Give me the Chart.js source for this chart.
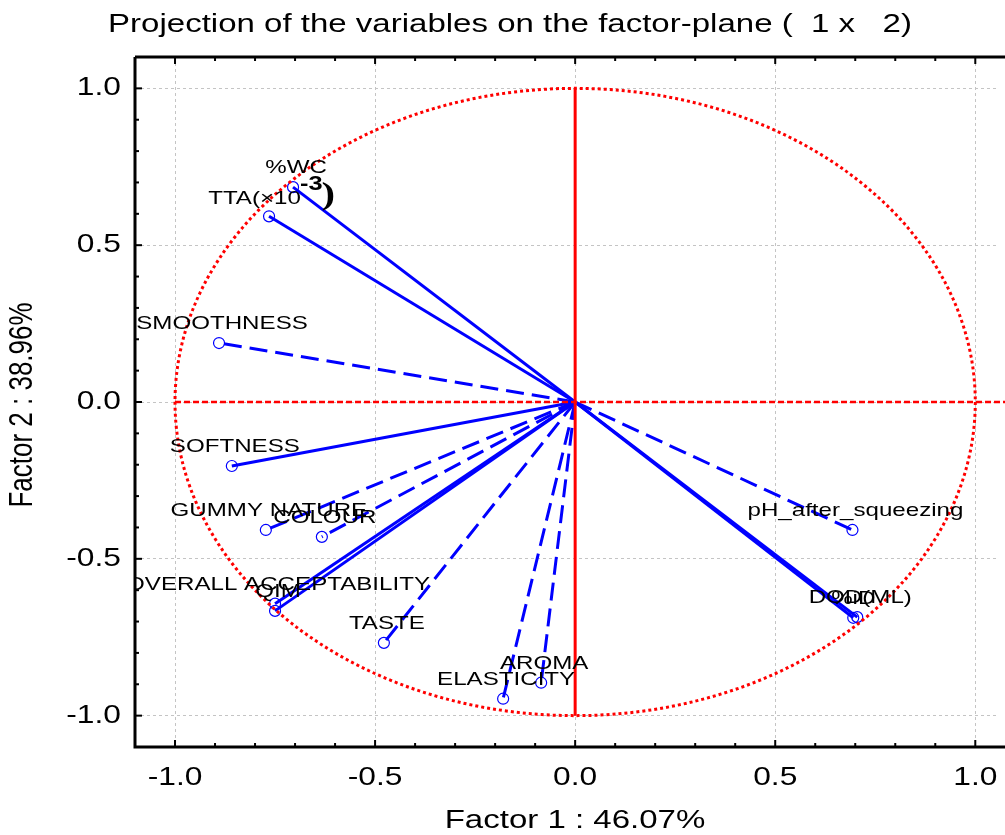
<!DOCTYPE html>
<html>
<head>
<meta charset="utf-8">
<script src="https://cdn.jsdelivr.net/npm/chart.js@4.4.1/dist/chart.umd.min.js"></script>
<style>
  html, body { margin: 0; padding: 0; background: #fff; }
</style>
</head>
<body>
<canvas id="chart" width="1005" height="835"></canvas>
<script>
// variable loadings on factor 1 and factor 2
const variables = ['%WC', 'TTA(×10', 'SMOOTHNESS', 'SOFTNESS', 'GUMMY NATURE', 'COLOUR',
    'OVERALL ACCEPTABILITY', 'QIM', 'TASTE', 'AROMA', 'ELASTICITY',
    'pH_after_squeezing', 'DOD(ML)', '%iD'];
const factor1 = [-0.705, -0.765, -0.89, -0.858, -0.773, -0.633,
    -0.75, -0.75, -0.478, -0.085, -0.18,
    0.693, 0.705, 0.695];
const factor2 = [0.685, 0.592, 0.188, -0.204, -0.408, -0.43,
    -0.643, -0.666, -0.768, -0.895, -0.946,
    -0.408, -0.686, -0.688];
const dashedVars = ['SMOOTHNESS', 'GUMMY NATURE', 'COLOUR', 'TASTE', 'AROMA', 'ELASTICITY', 'pH_after_squeezing'];

const xTicks = [-1.0, -0.5, 0.0, 0.5, 1.0];
const yTicks = [-1.0, -0.5, 0.0, 0.5, 1.0];

const chartTitle = 'Projection of the variables on the factor-plane (  1 x   2)';
const xTitle = 'Factor 1 : 46.07%';
const yTitle = 'Factor 2 : 38.96%';

const SX = 1.27; // the original picture is stretched sideways
const FONT = '"Liberation Sans", Arial, sans-serif';
const BLUE = '#0000ff';
const RED = '#ff0000';

function stext(ctx, str, x, y, size, align, weight) {
    ctx.save();
    ctx.translate(x, y);
    ctx.scale(SX, 1);
    ctx.font = (weight || '') + ' ' + size + 'px ' + FONT;
    ctx.textAlign = align || 'center';
    ctx.textBaseline = 'middle';
    ctx.fillText(str, 0, 0);
    ctx.restore();
}

const decor = {
    id: 'decor',
    afterDatasetsDraw(chart) {
        const ctx = chart.ctx, a = chart.chartArea;
        const xs = chart.scales.x, ys = chart.scales.y;
        const px = v => xs.getPixelForValue(v), py = v => ys.getPixelForValue(v);
        const right = chart.width;

        // unit circle and red axes
        ctx.save();
        ctx.beginPath();
        ctx.rect(a.left, a.top, right - a.left, a.bottom - a.top);
        ctx.clip();
        ctx.strokeStyle = RED;
        ctx.lineWidth = 3;
        ctx.setLineDash([3, 3]);
        ctx.beginPath();
        ctx.ellipse(px(0), py(0), px(1) - px(0), py(0) - py(1), 0, 0, Math.PI * 2);
        ctx.stroke();
        ctx.lineWidth = 2.5;
        ctx.setLineDash([6, 3]);
        ctx.beginPath();
        ctx.moveTo(px(-1), py(0));
        ctx.lineTo(right, py(0));
        ctx.stroke();
        ctx.setLineDash([]);
        ctx.lineWidth = 3;
        ctx.beginPath();
        ctx.moveTo(px(0), py(1));
        ctx.lineTo(px(0), py(-1));
        ctx.stroke();

        // variable labels
        ctx.fillStyle = '#000';
        chart.data.datasets.forEach((ds, i) => {
            const el = chart.getDatasetMeta(i).data[1];
            const cx = el.x + 3, cy = el.y - 19;
            if (ds.label === 'TTA(×10') {
                ctx.font = '19px ' + FONT;
                const w1 = ctx.measureText(ds.label).width * SX;
                ctx.font = 'bold 19px ' + FONT;
                const w2 = ctx.measureText('-3').width * SX;
                ctx.font = 'bold 32px "Liberation Serif", serif';
                const w3 = ctx.measureText(')').width * SX;
                let x0 = cx - (w1 + w2 + w3) / 2;
                stext(ctx, ds.label, x0, cy + 1, 19, 'left');
                stext(ctx, '-3', x0 + w1 - 1, cy - 13, 20, 'left', 'bold');
                ctx.save();
                ctx.translate(x0 + w1 + w2 - 1, cy - 2);
                ctx.scale(SX, 1);
                ctx.font = 'bold 32px "Liberation Serif", serif';
                ctx.textBaseline = 'middle';
                ctx.fillText(')', 0, 0);
                ctx.restore();
            } else if (ds.label === '%iD') {
                stext(ctx, ds.label, cx - 3, cy, 19, 'center');
            } else {
                stext(ctx, ds.label, cx, cy, 19, 'center');
            }
        });
        ctx.restore();

        // frame: top, left and bottom axes with inward ticks
        ctx.save();
        ctx.strokeStyle = '#000';
        ctx.lineWidth = 3;
        ctx.beginPath();
        ctx.moveTo(a.left, a.top);
        ctx.lineTo(right, a.top);
        ctx.moveTo(a.left, a.top);
        ctx.lineTo(a.left, a.bottom);
        ctx.lineTo(right, a.bottom);
        ctx.stroke();
        ctx.lineWidth = 2;
        for (let k = -11; k <= 11; k++) {
            const v = k / 10;
            const len = (k % 5 === 0) ? 7 : 4;
            if (v >= xs.min && v <= xs.max) {
                const x = px(v);
                ctx.beginPath();
                ctx.moveTo(x, a.top); ctx.lineTo(x, a.top + len);
                ctx.moveTo(x, a.bottom); ctx.lineTo(x, a.bottom - len);
                ctx.stroke();
            }
            if (v > ys.min && v < ys.max) {
                const y = py(v);
                ctx.beginPath();
                ctx.moveTo(a.left, y); ctx.lineTo(a.left + len, y);
                ctx.stroke();
            }
        }

        // tick labels and titles
        ctx.fillStyle = '#000';
        xTicks.forEach(v => stext(ctx, v.toFixed(1), px(v), a.bottom + 31, 25, 'center'));
        yTicks.forEach(v => stext(ctx, v.toFixed(1), a.left - 14, py(v), 25, 'right'));
        stext(ctx, chartTitle, 510, 25, 26, 'center');
        stext(ctx, xTitle, 575, 821, 26, 'center');
        ctx.save();
        ctx.translate(23, 405);
        ctx.rotate(-Math.PI / 2);
        ctx.scale(1, SX);
        ctx.font = '26px ' + FONT;
        ctx.textAlign = 'center';
        ctx.textBaseline = 'middle';
        ctx.fillText(yTitle, 0, 0);
        ctx.restore();
        ctx.restore();
    }
};

const datasets = variables.map((name, i) => ({
    label: name,
    data: [{ x: 0, y: 0 }, { x: factor1[i], y: factor2[i] }],
    showLine: true,
    borderColor: BLUE,
    borderWidth: 3,
    borderDash: dashedVars.includes(name) ? [18, 8] : [],
    pointRadius: [0, 5.5],
    pointBorderColor: BLUE,
    pointBackgroundColor: 'rgba(0,0,0,0)',
    pointBorderWidth: 1.2
}));

new Chart(document.getElementById('chart'), {
    type: 'scatter',
    data: { datasets: datasets },
    plugins: [decor],
    options: {
        responsive: false,
        animation: false,
        layout: { padding: { left: 135, top: 57, right: 0, bottom: 88 } },
        plugins: { legend: { display: false }, tooltip: { enabled: false }, title: { display: false } },
        scales: {
            x: {
                type: 'linear', min: -1.1, max: 1.0575,
                ticks: { display: false, stepSize: 0.5, includeBounds: false },
                grid: { color: '#c4c4c4', drawTicks: false, tickLength: 0 },
                border: { display: false, dash: [3, 3] }
            },
            y: {
                type: 'linear', min: -1.1, max: 1.1,
                ticks: { display: false, stepSize: 0.5, includeBounds: false },
                grid: { color: '#c4c4c4', drawTicks: false, tickLength: 0 },
                border: { display: false, dash: [3, 3] }
            }
        }
    }
});
</script>
</body>
</html>
